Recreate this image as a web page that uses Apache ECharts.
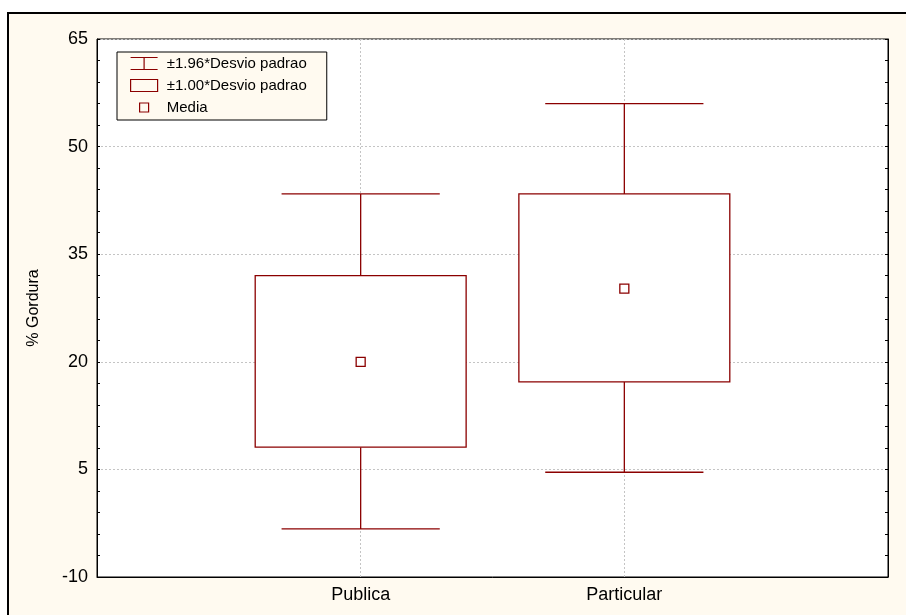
<!DOCTYPE html>
<html>
<head>
<meta charset="utf-8">
<script src="https://cdn.jsdelivr.net/npm/echarts@6/dist/echarts.min.js"></script>
<style>
  html, body { margin: 0; padding: 0; background: #fff; }
  #chart { width: 906px; height: 615px; }
</style>
</head>
<body>
<div id="chart"></div>
<script>
// data
const categories = ['Publica', 'Particular']
const means = [20.0, 30.2]
const boxLow = [8.1, 17.2] // media - 1.00*dp
const boxHigh = [32.0, 43.4] // media + 1.00*dp
const whiskerLow = [-3.3, 4.6] // media - 1.96*dp
const whiskerHigh = [43.4, 56.0] // media + 1.96*dp
const yTicks = { min: -10, max: 65, step: 15 }

const RED = '#8b0000'
const FONT = 'Arial, "Liberation Sans", sans-serif'

const whiskerData = categories.map((c, i) => [i + 1, whiskerLow[i], boxLow[i], boxHigh[i], whiskerHigh[i]])
const boxData = categories.map((c, i) => [i + 1, boxLow[i], boxHigh[i]])
const meanData = categories.map((c, i) => [i + 1, means[i]])

function renderWhisker (params, api) {
  const x = api.value(0)
  const lo = api.coord([x, api.value(1)])
  const q1 = api.coord([x, api.value(2)])
  const q3 = api.coord([x, api.value(3)])
  const hi = api.coord([x, api.value(4)])
  const half = api.size([0.6, 0])[0] / 2
  const style = { stroke: RED, lineWidth: 1.3, fill: null }
  const line = (x1, y1, x2, y2) => ({ type: 'line', shape: { x1, y1, x2, y2 }, style })
  return {
    type: 'group',
    children: [
      line(hi[0] - half, hi[1], hi[0] + half, hi[1]),
      line(hi[0], hi[1], q3[0], q3[1]),
      line(q1[0], q1[1], lo[0], lo[1]),
      line(lo[0] - half, lo[1], lo[0] + half, lo[1])
    ]
  }
}

function renderBox (params, api) {
  const x = api.value(0)
  const bottom = api.coord([x, api.value(1)])
  const top = api.coord([x, api.value(2)])
  const w = api.size([0.8, 0])[0]
  return {
    type: 'rect',
    shape: { x: top[0] - w / 2, y: top[1], width: w, height: bottom[1] - top[1] },
    style: { fill: '#fff', stroke: RED, lineWidth: 1.3 }
  }
}

const yAxisBase = {
  type: 'value',
  min: yTicks.min,
  max: yTicks.max,
  interval: yTicks.step,
  axisLine: { show: true, lineStyle: { color: '#000', width: 1 } },
  axisTick: { show: true, inside: true, length: 3, lineStyle: { color: '#000' } },
  minorTick: { show: true, splitNumber: 5, length: 3, lineStyle: { color: '#000' } }
}

const chart = echarts.init(document.getElementById('chart'))
chart.setOption({
  backgroundColor: '#fff',
  animation: false,
  textStyle: { fontFamily: FONT },
  graphic: [{
    type: 'rect',
    z: -10,
    shape: { x: 8, y: 13, width: 1000, height: 700 },
    style: { fill: '#fffaf0', stroke: '#000', lineWidth: 2 }
  }],
  grid: {
    left: 97,
    top: 39,
    right: 18,
    bottom: 38,
    show: true,
    backgroundColor: '#fff',
    borderColor: '#000',
    borderWidth: 1
  },
  legend: {
    orient: 'vertical',
    left: 117,
    top: 52,
    padding: [4, 20, 5, 13],
    itemWidth: 27,
    itemHeight: 12,
    itemGap: 7,
    backgroundColor: '#fffaf0',
    borderColor: '#000',
    borderWidth: 1,
    borderRadius: 0,
    formatter: name => ' ' + name,
    textStyle: { fontSize: 15, color: '#000', fontFamily: FONT },
    data: [
      {
        name: '±1.96*Desvio padrao',
        icon: 'path://M0,0L27,0M13.5,0L13.5,12M0,12L27,12',
        itemStyle: { color: 'rgba(0,0,0,0)', borderColor: RED, borderWidth: 1.2 }
      },
      {
        name: '±1.00*Desvio padrao',
        icon: 'path://M0,0L27,0L27,12L0,12Z',
        itemStyle: { color: 'rgba(0,0,0,0)', borderColor: RED, borderWidth: 1.2 }
      },
      {
        name: 'Media',
        icon: 'path://M0,0L0,0M9,1.5L18,1.5L18,10.5L9,10.5ZM27,12L27,12',
        itemStyle: { color: 'rgba(0,0,0,0)', borderColor: RED, borderWidth: 1.2 }
      }
    ]
  },
  xAxis: {
    type: 'value',
    min: 0,
    max: 3,
    interval: 1,
    axisLine: { show: true, onZero: false, lineStyle: { color: '#000', width: 1 } },
    axisTick: { show: false },
    axisLabel: {
      margin: 9,
      fontSize: 18,
      color: '#000',
      formatter: v => categories[v - 1] || ''
    },
    splitLine: { show: true, lineStyle: { color: '#c4c4c4', type: [2, 2], width: 1 } }
  },
  yAxis: [
    Object.assign({}, yAxisBase, {
      position: 'left',
      name: '% Gordura',
      nameLocation: 'middle',
      nameRotate: 90,
      nameGap: 55,
      nameTextStyle: { fontSize: 16, color: '#000' },
      axisLabel: { margin: 9, fontSize: 18, color: '#000' },
      splitLine: { show: true, lineStyle: { color: '#c4c4c4', type: [2, 2], width: 1 } }
    }),
    Object.assign({}, yAxisBase, {
      position: 'right',
      axisLabel: { show: false },
      splitLine: { show: false }
    })
  ],
  series: [
    {
      name: '±1.96*Desvio padrao',
      type: 'custom',
      renderItem: renderWhisker,
      data: whiskerData,
      itemStyle: { color: RED },
      z: 2
    },
    {
      name: '±1.00*Desvio padrao',
      type: 'custom',
      renderItem: renderBox,
      data: boxData,
      itemStyle: { color: RED },
      z: 3
    },
    {
      name: 'Media',
      type: 'scatter',
      symbol: 'rect',
      symbolSize: 9,
      data: meanData,
      itemStyle: { color: '#fff', borderColor: RED, borderWidth: 1.3, opacity: 1 },
      z: 4
    }
  ]
})
</script>
</body>
</html>
